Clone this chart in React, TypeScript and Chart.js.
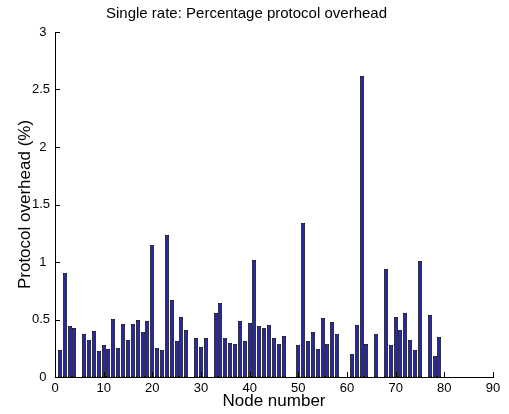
import React, { useEffect, useRef } from 'react';
import { Chart, registerables } from 'chart.js';

Chart.register(...registerables);

// Node numbers that have a bar (missing nodes have no bar)
const nodeNumbers = [
  1, 2, 3, 4, 6, 7, 8, 9, 10, 11, 12, 13, 14, 15, 16, 17, 18, 19, 20,
  21, 22, 23, 24, 25, 26, 27, 29, 30, 31, 33, 34, 35, 36, 37, 38, 39, 40,
  41, 42, 43, 44, 45, 46, 47, 50, 51, 52, 53, 54, 55, 56, 57, 58,
  61, 62, 63, 64, 66, 68, 69, 70, 71, 72, 73, 74, 75, 77, 78, 79,
];

// Protocol overhead (%) for each node above
const overheadPct = [
  0.237, 0.906, 0.447, 0.424, 0.372, 0.323, 0.401, 0.225, 0.277, 0.245, 0.508, 0.254, 0.462, 0.326, 0.462, 0.494, 0.395, 0.485, 1.144,
  0.254, 0.234, 1.233, 0.667, 0.315, 0.52, 0.413, 0.338, 0.263, 0.338, 0.554, 0.644, 0.335, 0.3, 0.289, 0.488, 0.309, 0.468,
  1.014, 0.447, 0.424, 0.456, 0.338, 0.283, 0.358, 0.28, 1.343, 0.315, 0.39, 0.243, 0.511, 0.291, 0.482, 0.37,
  0.202, 0.453, 2.62, 0.287, 0.378, 0.941, 0.28, 0.522, 0.41, 0.557, 0.32, 0.231, 1.01, 0.537, 0.179, 0.349,
];

const titleText = 'Single rate: Percentage protocol overhead';
const xAxisLabel = 'Node number';
const yAxisLabel = 'Protocol overhead (%)';

const FONT = '"Liberation Sans", Arial, Helvetica, sans-serif';

// Inward tick marks (MATLAB style)
const innerTicks = {
  id: 'innerTicks',
  afterDraw(chart: any) {
    const { ctx, chartArea, scales } = chart;
    ctx.save();
    ctx.strokeStyle = '#000';
    ctx.lineWidth = 1;
    ctx.beginPath();
    scales.x.ticks.forEach((t: any) => {
      const px = Math.round(scales.x.getPixelForValue(t.value)) + 0.5;
      ctx.moveTo(px, chartArea.bottom);
      ctx.lineTo(px, chartArea.bottom - 5);
    });
    scales.y.ticks.forEach((t: any) => {
      const py = Math.round(scales.y.getPixelForValue(t.value)) + 0.5;
      ctx.moveTo(chartArea.left, py);
      ctx.lineTo(chartArea.left + 5, py);
    });
    ctx.stroke();
    ctx.restore();
  },
};

// Snap the library-computed bar geometry to whole pixels for crisp edges
const snapBars = {
  id: 'snapBars',
  beforeDatasetsDraw(chart: any) {
    chart.getDatasetMeta(0).data.forEach((el: any) => {
      const w = Math.round(el.width);
      const left = Math.round(el.x - el.width / 2);
      el.x = left + w / 2;
      el.width = w;
      el.y = Math.round(el.y);
      el.base = Math.round(el.base);
    });
  },
};

export default function App() {
  const ref = useRef<HTMLCanvasElement | null>(null);

  useEffect(() => {
    if (!ref.current) return;
    const chart = new Chart(ref.current, {
      type: 'bar',
      data: {
        datasets: [
          {
            data: nodeNumbers.map((n, i) => ({ x: n, y: overheadPct[i] })),
            backgroundColor: 'rgb(40,40,162)',
            borderColor: '#000',
            borderWidth: 0.8,
            borderSkipped: false,
            categoryPercentage: 1,
            barPercentage: 0.85,
          },
        ],
      },
      options: {
        animation: false,
        responsive: false,
        devicePixelRatio: 1,
        layout: { padding: { left: 0, right: 16, top: 0, bottom: 0 } },
        plugins: {
          legend: { display: false },
          tooltip: { enabled: false },
          title: {
            display: true,
            text: titleText,
            color: '#000',
            font: { family: FONT, size: 15, weight: 'normal' },
            padding: { top: 5, bottom: 9 },
          },
        },
        scales: {
          x: {
            type: 'linear',
            min: 0,
            max: 90,
            offset: false,
            grid: { display: false, offset: false, drawTicks: false, tickLength: 0 },
            border: { display: true, color: '#000', width: 1 },
            ticks: {
              stepSize: 10,
              padding: 4,
              color: '#000',
              font: { family: FONT, size: 13 },
              maxRotation: 0,
              autoSkip: false,
            },
            title: {
              display: true,
              text: xAxisLabel,
              color: '#000',
              font: { family: FONT, size: 17 },
              padding: { top: 0, bottom: 2 },
            },
            afterFit: (s: any) => {
              s.height = 37;
            },
          },
          y: {
            type: 'linear',
            min: 0,
            max: 3,
            grid: { display: false, drawTicks: false, tickLength: 0 },
            border: { display: true, color: '#000', width: 1 },
            ticks: {
              stepSize: 0.5,
              padding: 5,
              color: '#000',
              font: { family: FONT, size: 13 },
              callback: (v: any) => (Number.isInteger(v) ? v + ' ' : String(v)),
            },
            title: {
              display: true,
              text: yAxisLabel,
              color: '#000',
              font: { family: FONT, size: 17 },
              padding: { top: 15, bottom: 0 },
            },
            afterFit: (s: any) => {
              s.width = 55;
            },
          },
        },
      },
      plugins: [snapBars, innerTicks],
    });
    return () => chart.destroy();
  }, []);

  return (
    <div style={{ position: 'absolute', left: 0, top: 0, width: 509, height: 414, background: '#fff' }}>
      <canvas ref={ref} width={509} height={414} style={{ width: 509, height: 414, display: 'block' }} />
    </div>
  );
}
